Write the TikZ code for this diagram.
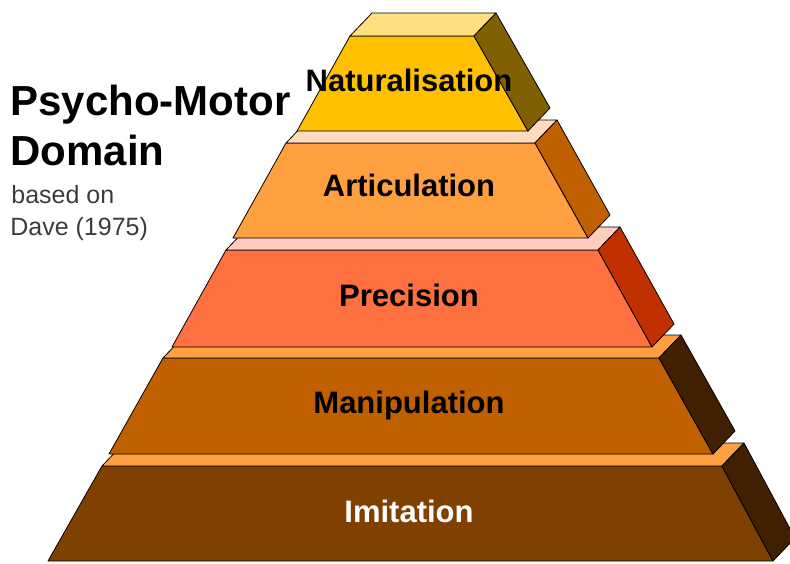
\documentclass[tikz,border=0pt]{standalone}
\usepackage{fontspec}
\setmainfont{Liberation Sans}
\definecolor{natfront}{RGB}{255,192,0}
\definecolor{nattop}{RGB}{255,224,128}
\definecolor{natside}{RGB}{128,96,0}
\definecolor{artfront}{RGB}{255,160,64}
\definecolor{arttop}{RGB}{255,218,190}
\definecolor{artside}{RGB}{192,96,0}
\definecolor{prefront}{RGB}{255,112,64}
\definecolor{pretop}{RGB}{255,204,190}
\definecolor{preside}{RGB}{192,48,0}
\definecolor{manfront}{RGB}{192,96,0}
\definecolor{mantop}{RGB}{255,160,64}
\definecolor{manside}{RGB}{64,32,0}
\definecolor{imifront}{RGB}{128,64,0}
\definecolor{imitop}{RGB}{255,160,64}
\definecolor{imiside}{RGB}{64,32,0}
\definecolor{subgray}{RGB}{60,60,60}

\begin{document}
\begin{tikzpicture}[x=1pt, y=-1pt, line width=0.8pt,
  tier/.style={draw=black, line join=round},
  tierlabel/.style={font=\fontsize{31}{36}\selectfont\bfseries, anchor=base, inner sep=0pt},
  titletext/.style={font=\fontsize{42}{48}\selectfont\bfseries, anchor=base west, inner sep=0pt},
  subtext/.style={font=\fontsize{25}{30}\selectfont, subgray, anchor=base west, inner sep=0pt}]
  \useasboundingbox (0,0) rectangle (790,563);
  \clip (0,0) rectangle (790,563);
  % Imitation
  \draw[tier, fill=imifront] (48,561) -- (773,561) -- (722,466) -- (102,466) -- cycle;
  \draw[tier, fill=imitop] (102,466) -- (722,466) -- (744,443) -- (124,443) -- cycle;
  \draw[tier, fill=imiside] (722,466) -- (773,561) -- (795,538) -- (744,443) -- cycle;
  % Manipulation
  \draw[tier, fill=manfront] (109,454) -- (713,454) -- (659,358) -- (163,358) -- cycle;
  \draw[tier, fill=mantop] (163,358) -- (659,358) -- (681,335) -- (185,335) -- cycle;
  \draw[tier, fill=manside] (659,358) -- (713,454) -- (735,431) -- (681,335) -- cycle;
  % Precision
  \draw[tier, fill=prefront] (172,347) -- (652,347) -- (598,250) -- (226,250) -- cycle;
  \draw[tier, fill=pretop] (226,250) -- (598,250) -- (620,227) -- (248,227) -- cycle;
  \draw[tier, fill=preside] (598,250) -- (652,347) -- (674,324) -- (620,227) -- cycle;
  % Articulation
  \draw[tier, fill=artfront] (233,238) -- (588,238) -- (535,143) -- (286,143) -- cycle;
  \draw[tier, fill=arttop] (286,143) -- (535,143) -- (557,120) -- (308,120) -- cycle;
  \draw[tier, fill=artside] (535,143) -- (588,238) -- (610,215) -- (557,120) -- cycle;
  % Naturalisation
  \draw[tier, fill=natfront] (297,131) -- (528,131) -- (474,36) -- (350,36) -- cycle;
  \draw[tier, fill=nattop] (350,36) -- (474,36) -- (496,13) -- (372,13) -- cycle;
  \draw[tier, fill=natside] (474,36) -- (528,131) -- (550,108) -- (496,13) -- cycle;
  % labels
  \node[tierlabel, white] (imitation) at (409,522) {Imitation};
  \node[tierlabel] (manipulation) at (409,413) {Manipulation};
  \node[tierlabel] (precision) at (409,306) {Precision};
  \node[tierlabel] (articulation) at (409,196) {Articulation};
  \node[tierlabel] (naturalisation) at (409,91) {Naturalisation};
  % title
  \node[titletext] (title) at (10,115) {Psycho-Motor};
  \node[titletext] (domain) at (10,165) {Domain};
  \node[subtext] (based) at (11,203) {based on};
  \node[subtext] (dave) at (10,235) {Dave (1975)};
\end{tikzpicture}
\end{document}
